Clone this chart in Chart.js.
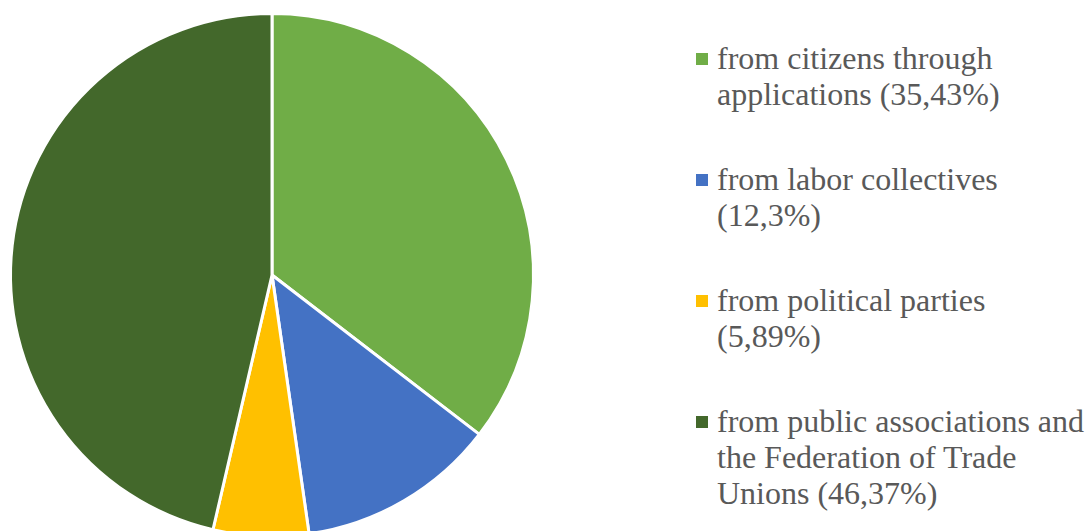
<!DOCTYPE html>
<html>
<head>
<meta charset="utf-8">
<script src="https://cdn.jsdelivr.net/npm/chart.js@4.4.0/dist/chart.umd.min.js"></script>
<style>
  html, body { margin: 0; padding: 0; background: #fff; overflow: hidden; }
  #wrap { position: relative; width: 1088px; height: 531px; overflow: hidden; }
  #pieBox { position: absolute; left: 0; top: 0; width: 544px; height: 550px; }
  #legend { position: absolute; left: 696px; top: 40px; font-family: 'Liberation Serif', 'DejaVu Serif', serif;
            font-size: 32px; line-height: 36px; color: #595959; }
  .item { position: relative; padding-left: 21px; margin-bottom: 49px; white-space: nowrap; }
  .box { position: absolute; left: 0; top: 13px; width: 12px; height: 12px; }
</style>
</head>
<body>
<div id="wrap">
  <div id="pieBox"><canvas id="pieCanvas"></canvas></div>
  <div id="legend"></div>
</div>
<script>
// === Data ===
const labels = [
  ['from citizens through', 'applications (35,43%)'],
  ['from labor collectives', '(12,3%)'],
  ['from political parties', '(5,89%)'],
  ['from public associations and', 'the Federation of Trade', 'Unions (46,37%)']
];
const shares = [35.43, 12.3, 5.89, 46.37];
const colors = ['#70AD47', '#4472C4', '#FFC000', '#43682B'];

// === Legend (HTML, multi-line labels) ===
const legendEl = document.getElementById('legend');
labels.forEach((lines, i) => {
  const div = document.createElement('div');
  div.className = 'item';
  div.innerHTML = `<span class="box" style="background:${colors[i]}"></span>` + lines.join('<br>');
  legendEl.appendChild(div);
});

// === Pie ===
const ctx = document.getElementById('pieCanvas').getContext('2d');
new Chart(ctx, {
  type: 'pie',
  data: {
    labels: labels.map(l => l.join(' ')),
    datasets: [{
      data: shares,
      backgroundColor: colors,
      borderColor: '#ffffff',
      borderWidth: 3
    }]
  },
  options: {
    responsive: true,
    maintainAspectRatio: false,
    animation: false,
    layout: { padding: { left: 9, right: 9, top: 12, bottom: 12 } },
    plugins: {
      legend: { display: false },
      tooltip: { enabled: false }
    }
  }
});
</script>
</body>
</html>
